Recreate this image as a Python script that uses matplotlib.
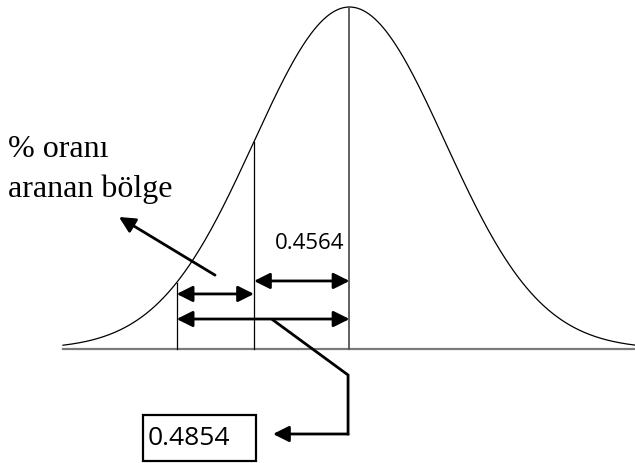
import numpy as np
import matplotlib
matplotlib.use("Agg")
import matplotlib.pyplot as plt
from matplotlib.patches import Rectangle

# positions in standard-deviation units (diagram is not to scale)
z_curve = (-3.0, 3.0)
z_mean = 0.0
z_inner = -1.0      # line for 0.4564
z_outer = -1.81     # line for 0.4854
label_inner = "0.4564"
label_outer = "0.4854"
text_lines = ["% oranı", "aranan bölge"]


def pdf(z):
    # normal curve scaled so the peak is 1
    return np.exp(-0.5 * np.asarray(z) ** 2)


def main():
    fig = plt.figure(figsize=(6.35, 4.63), dpi=100)
    ax = fig.add_axes([0, 0, 1, 1])
    ax.set_xlim(-3.660, 2.990)
    ax.set_ylim(-0.3333, 1.0205)
    ax.axis("off")

    # bell curve + baseline
    z = np.linspace(z_curve[0], z_curve[1], 400)
    ax.plot(z, pdf(z), color="black", lw=0.9)
    ax.plot(z_curve, [0, 0], color="#7a7a7a", lw=1.6)

    # vertical lines
    ax.plot([z_mean, z_mean], [0, pdf(z_mean)], color="#555555", lw=1.3)
    for zz in (z_inner, z_outer):
        ax.plot([zz, zz], [0, pdf(zz)], color="black", lw=0.9)

    # double headed arrows
    arrow = dict(arrowstyle="<|-|>,head_length=0.6,head_width=0.3",
                 color="black", lw=2.0, shrinkA=0, shrinkB=0, mutation_scale=16)
    ax.annotate("", xy=(z_inner, 0.199), xytext=(z_mean, 0.199), arrowprops=arrow)
    ax.annotate("", xy=(z_outer, 0.161), xytext=(z_inner, 0.161), arrowprops=arrow)
    ax.annotate("", xy=(z_outer, 0.0877), xytext=(z_mean, 0.0877), arrowprops=arrow)

    ax.text(-0.415, 0.308, label_inner, fontsize=16, family="Open Sans",
            ha="center", va="center")

    # arrow pointing to the searched region text
    one = dict(arrowstyle="-|>,head_length=0.6,head_width=0.3",
               color="black", lw=2.0, shrinkA=0, shrinkB=0, mutation_scale=16)
    ax.annotate("", xy=(-2.414, 0.386), xytext=(-1.408, 0.216), arrowprops=one)

    # connector from the long arrow down to the box
    cx = [-0.801, -0.015, -0.015]
    cy = [0.0848, -0.076, -0.2485]
    ax.plot(cx, cy, color="black", lw=2.0, solid_joinstyle="miter")
    ax.annotate("", xy=(-0.801, -0.2485), xytext=(-0.015, -0.2485), arrowprops=one)

    # boxed value
    ax.add_patch(Rectangle((-2.162, -0.3275), 1.183, 0.1345, fill=False,
                           edgecolor="black", lw=1.6))
    ax.text(-2.11, -0.262, label_outer, fontsize=19, family="Open Sans",
            ha="left", va="center")

    # left side text
    ax.text(-3.576, 0.561, text_lines[0], fontsize=23, family="Liberation Serif",
            ha="left", va="baseline")
    ax.text(-3.576, 0.444, text_lines[1], fontsize=23, family="Liberation Serif",
            ha="left", va="baseline")

    fig.savefig("out.png", dpi=100, facecolor="white")


if __name__ == "__main__":
    main()
